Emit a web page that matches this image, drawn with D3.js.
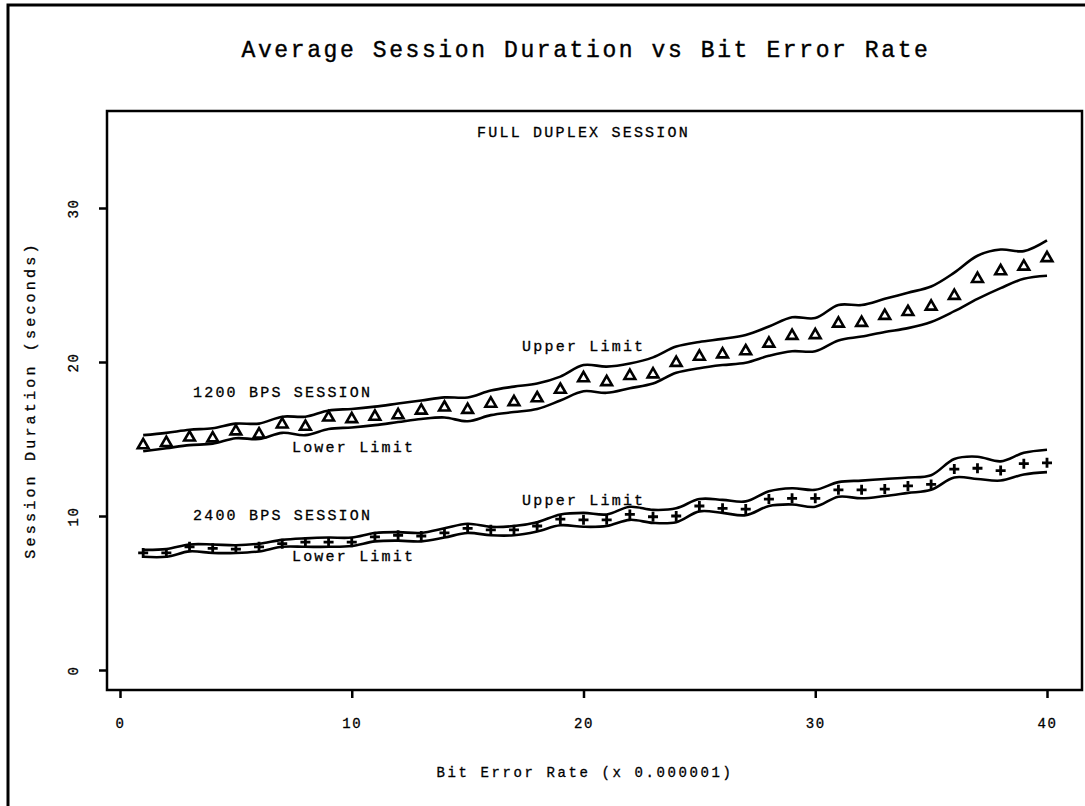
<!DOCTYPE html>
<html>
<head>
<meta charset="utf-8">
<script src="https://cdn.jsdelivr.net/npm/d3@7"></script>
<style>
  body { margin: 0; background: #fff; }
  text { font-family: "Liberation Mono", "DejaVu Sans Mono", monospace; fill: #000; }
</style>
</head>
<body>
<svg width="1085" height="806"></svg>
<script>
// Bit error rate (x 0.000001)
var berValues = d3.range(1, 41);

// 1200 BPS session: mean and confidence limits (seconds)
var mean1200 = [14.6, 14.75, 15.1, 15.05, 15.5, 15.3, 15.95, 15.8, 16.4, 16.3,
    16.45, 16.55, 16.85, 17.05, 16.9, 17.3, 17.4, 17.65, 18.2, 18.95,
    18.7, 19.1, 19.2, 19.95, 20.35, 20.5, 20.7, 21.2, 21.7, 21.75,
    22.5, 22.55, 23.0, 23.25, 23.6, 24.3, 25.4, 25.9, 26.2, 26.75];
var upper1200 = [15.25, 15.4, 15.6, 15.7, 16.0, 16.0, 16.45, 16.45, 16.85, 16.95,
    17.1, 17.3, 17.5, 17.7, 17.7, 18.15, 18.4, 18.6, 19.05, 19.8,
    19.7, 19.9, 20.3, 21.0, 21.3, 21.5, 21.75, 22.3, 22.9, 22.85,
    23.7, 23.7, 24.1, 24.5, 24.9, 25.8, 26.9, 27.3, 27.2, 27.9];
var lower1200 = [14.2, 14.4, 14.6, 14.7, 15.05, 15.0, 15.4, 15.25, 15.65, 15.75,
    15.9, 16.1, 16.3, 16.4, 16.15, 16.55, 16.75, 16.95, 17.5, 18.1,
    18.0, 18.3, 18.6, 19.3, 19.6, 19.8, 19.95, 20.4, 20.7, 20.7,
    21.4, 21.65, 21.95, 22.2, 22.6, 23.3, 24.1, 24.8, 25.4, 25.6];

// 2400 BPS session: mean and confidence limits (seconds)
var mean2400 = [7.6, 7.6, 8.0, 7.9, 7.85, 8.0, 8.2, 8.3, 8.3, 8.3,
    8.65, 8.75, 8.7, 8.9, 9.2, 9.1, 9.1, 9.35, 9.8, 9.75,
    9.75, 10.1, 9.95, 10.0, 10.65, 10.5, 10.45, 11.1, 11.15, 11.15,
    11.7, 11.7, 11.75, 11.95, 12.05, 13.05, 13.1, 12.95, 13.4, 13.45];
var upper2400 = [7.8, 7.85, 8.15, 8.15, 8.1, 8.2, 8.45, 8.55, 8.6, 8.6,
    8.9, 8.95, 8.9, 9.2, 9.5, 9.3, 9.35, 9.6, 10.1, 10.2,
    10.1, 10.6, 10.4, 10.5, 11.1, 11.05, 10.95, 11.6, 11.8, 11.7,
    12.2, 12.3, 12.4, 12.5, 12.65, 13.7, 13.85, 13.55, 14.1, 14.3];
var lower2400 = [7.35, 7.35, 7.7, 7.6, 7.6, 7.7, 8.0, 8.0, 8.0, 8.05,
    8.35, 8.4, 8.35, 8.6, 8.9, 8.75, 8.75, 9.0, 9.4, 9.3,
    9.35, 9.75, 9.55, 9.6, 10.3, 10.2, 10.05, 10.65, 10.75, 10.6,
    11.25, 11.15, 11.3, 11.5, 11.7, 12.5, 12.4, 12.3, 12.7, 12.85];

var xTicks = [0, 10, 20, 30, 40];
var yTicks = [0, 10, 20, 30];

// Annotation text placed in data units
var notes = [
    {text: 'FULL DUPLEX SESSION', x: 20.0, y: 34.6, anchor: 'middle'},
    {text: 'Upper Limit', x: 17.35, y: 20.7, anchor: 'start'},
    {text: '1200 BPS SESSION', x: 3.15, y: 17.7, anchor: 'start'},
    {text: 'Lower Limit', x: 7.42, y: 14.15, anchor: 'start'},
    {text: 'Upper Limit', x: 17.35, y: 10.7, anchor: 'start'},
    {text: '2400 BPS SESSION', x: 3.15, y: 9.75, anchor: 'start'},
    {text: 'Lower Limit', x: 7.42, y: 7.1, anchor: 'start'}
];

var svg = d3.select('svg');

var box = {l: 107, t: 111, r: 1082, b: 690};

var x = d3.scaleLinear().domain([0, 40]).range([120, 1047]);
var y = d3.scaleLinear().domain([0, 30]).range([670, 208]);

// Outer page frame (left and top edges)
svg.append('path')
    .attr('d', 'M8,806 L8,5 L1085,5')
    .attr('fill', 'none')
    .attr('stroke', '#000')
    .attr('stroke-width', 3);

// Title
svg.append('text')
    .attr('x', 586)
    .attr('y', 57)
    .attr('text-anchor', 'middle')
    .style('font-family', '"Courier New", "Liberation Mono", monospace')
    .style('font-size', '23px')
    .style('letter-spacing', '2.6px')
    .style('stroke', '#000')
    .style('stroke-width', '0.4px')
    .text('Average Session Duration vs Bit Error Rate');

// Plot frame
svg.append('rect')
    .attr('x', box.l)
    .attr('y', box.t)
    .attr('width', box.r - box.l)
    .attr('height', box.b - box.t)
    .attr('fill', 'none')
    .attr('stroke', '#000')
    .attr('stroke-width', 2.5);

// Axes
var xAxis = d3.axisBottom(x).tickValues(xTicks).tickSize(8).tickPadding(20);
var xG = svg.append('g')
    .attr('transform', 'translate(0,' + box.b + ')')
    .call(xAxis);

var yAxis = d3.axisLeft(y).tickValues(yTicks).tickSize(8).tickPadding(0);
var yG = svg.append('g')
    .attr('transform', 'translate(' + box.l + ',0)')
    .call(yAxis);

[xG, yG].forEach(function(g) {
    g.select('.domain').remove();
    g.selectAll('.tick line').attr('stroke', '#000').attr('stroke-width', 2.5);
    g.selectAll('.tick text')
        .style('font-size', '14px')
        .style('letter-spacing', '1.5px')
        .style('stroke', '#000')
        .style('stroke-width', '0.3px')
        .attr('fill', '#000');
});

// Rotate y tick labels like the reference
yG.selectAll('.tick text')
    .attr('x', null)
    .attr('dy', null)
    .attr('text-anchor', 'middle')
    .attr('transform', 'translate(-29,0) rotate(-90)');

// Axis titles
svg.append('text')
    .attr('x', 585)
    .attr('y', 777)
    .attr('text-anchor', 'middle')
    .style('font-size', '14px')
    .style('letter-spacing', '2.6px')
    .style('stroke', '#000')
    .style('stroke-width', '0.3px')
    .text('Bit Error Rate (x 0.000001)');

svg.append('text')
    .attr('transform', 'translate(35,' + 400 + ') rotate(-90)')
    .attr('text-anchor', 'middle')
    .style('font-size', '15px')
    .style('letter-spacing', '3.2px')
    .style('stroke', '#000')
    .style('stroke-width', '0.3px')
    .text('Session Duration (seconds)');

// Limit curves
var line = d3.line()
    .x(function(d, i) { return x(berValues[i]); })
    .y(function(d) { return y(d); })
    .curve(d3.curveCatmullRom.alpha(0.5));

[upper1200, lower1200, upper2400, lower2400].forEach(function(series) {
    svg.append('path')
        .datum(series)
        .attr('d', line)
        .attr('fill', 'none')
        .attr('stroke', '#000')
        .attr('stroke-width', 2.6);
});

// Triangle markers (1200 BPS)
var tri = d3.symbol().type(d3.symbolTriangle).size(50);
svg.selectAll('.tri')
    .data(mean1200)
    .enter().append('path')
    .attr('class', 'tri')
    .attr('d', tri)
    .attr('transform', function(d, i) { return 'translate(' + x(berValues[i]) + ',' + y(d) + ')'; })
    .attr('fill', '#fff')
    .attr('stroke', '#000')
    .attr('stroke-width', 2.6);

// Plus markers (2400 BPS)
var plusHalf = 5;
svg.selectAll('.plus')
    .data(mean2400)
    .enter().append('path')
    .attr('class', 'plus')
    .attr('d', function(d, i) {
        var cx = x(berValues[i]), cy = y(d);
        return 'M' + (cx - plusHalf) + ',' + cy + 'H' + (cx + plusHalf) +
            'M' + cx + ',' + (cy - plusHalf) + 'V' + (cy + plusHalf);
    })
    .attr('stroke', '#000')
    .attr('stroke-width', 2.8);

// Annotations
svg.selectAll('.note')
    .data(notes)
    .enter().append('text')
    .attr('class', 'note')
    .attr('x', function(d) { return x(d.x); })
    .attr('y', function(d) { return y(d.y); })
    .attr('text-anchor', function(d) { return d.anchor; })
    .style('font-size', '15px')
    .style('letter-spacing', '2.2px')
    .style('stroke', '#000')
    .style('stroke-width', '0.3px')
    .text(function(d) { return d.text; });
</script>
</body>
</html>
